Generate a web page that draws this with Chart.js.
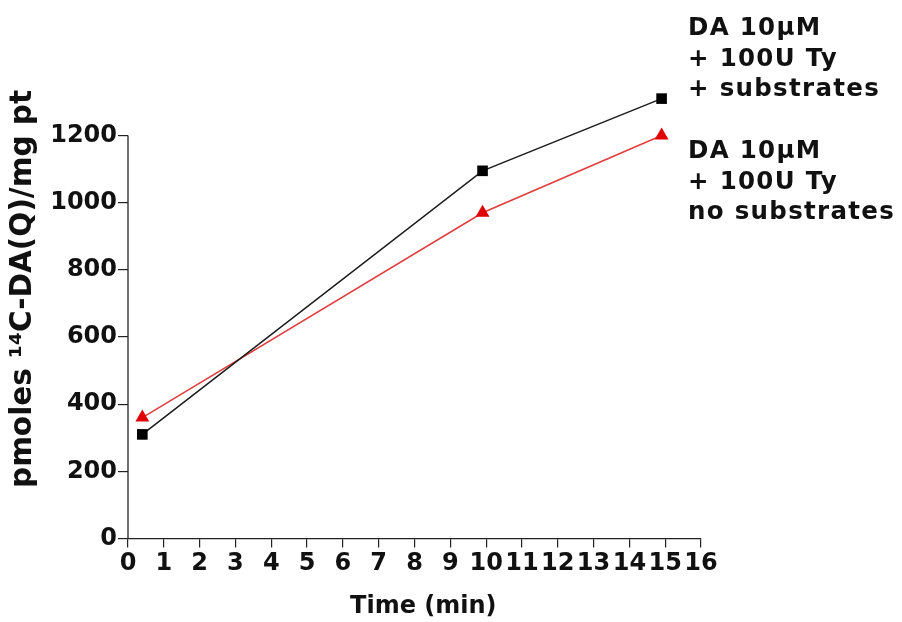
<!DOCTYPE html>
<html>
<head>
<meta charset="utf-8">
<script src="https://cdn.jsdelivr.net/npm/chart.js@4/dist/chart.umd.min.js"></script>
<style>
  html, body { margin: 0; padding: 0; background: #ffffff; overflow: hidden; }
  #c { display: block; }
</style>
</head>
<body>
<canvas id="c" width="902" height="622"></canvas>
<script>
// Incubation times (min)
const timesWith = [0.4, 9.9, 14.9];
const timesWithout = [0.4, 9.9, 14.9];
// 14C-DA(Q) bound, pmoles / mg protein
const withSubstrates = [310, 1095, 1310];
const noSubstrates = [360, 970, 1200];

const yTicks = [0, 200, 400, 600, 800, 1000, 1200];
const xTicks = [0, 1, 2, 3, 4, 5, 6, 7, 8, 9, 10, 11, 12, 13, 14, 15, 16];

const seriesLabels = [
  ['DA 10\u00b5M', '+ 100U Ty', '+ substrates'],
  ['DA 10\u00b5M', '+ 100U Ty', 'no substrates']
];
const yTitle = 'pmoles \u00b9\u2074C-DA(Q)/mg pt';
const xTitle = 'Time (min)';

const FONT = '"DejaVu Sans", Verdana, sans-serif';
const INK = '#111111';

function toPoints(xs, ys) {
  return xs.map((x, i) => ({ x: x, y: ys[i] }));
}

// Left axis line (stops at the top tick), axis titles and series captions
const decorPlugin = {
  id: 'decor',
  afterDraw(chart) {
    const ctx = chart.ctx;
    const xs = chart.scales.x, ys = chart.scales.y;
    ctx.save();
    ctx.strokeStyle = '#222';
    ctx.lineWidth = 1.3;
    ctx.beginPath();
    ctx.moveTo(xs.left, ys.getPixelForValue(yTicks[0]));
    ctx.lineTo(xs.left, ys.getPixelForValue(yTicks[yTicks.length - 1]));
    ctx.stroke();

    ctx.fillStyle = INK;
    ctx.textBaseline = 'middle';

    // captions next to the end points
    ctx.textAlign = 'left';
    ctx.font = 'bold 24.5px ' + FONT;
    if ('letterSpacing' in ctx) ctx.letterSpacing = '1.3px';
    const capX = xs.right - 13;
    const tops = [29, 152];
    seriesLabels.forEach((lines, b) => {
      lines.forEach((t, i) => ctx.fillText(t, capX, tops[b] + i * 30.5));
    });
    if ('letterSpacing' in ctx) ctx.letterSpacing = '0px';

    // x title
    ctx.font = 'bold 24px ' + FONT;
    ctx.fillText(xTitle, xs.getPixelForValue(6.2), 607);

    // y title
    ctx.textAlign = 'center';
    ctx.translate(23, 289);
    ctx.rotate(-Math.PI / 2);
    ctx.font = 'bold 29.5px ' + FONT;
    ctx.fillText(yTitle, 0, 0);
    ctx.restore();
  }
};

new Chart(document.getElementById('c'), {
  type: 'scatter',
  data: {
    datasets: [
      {
        label: seriesLabels[0].join(' '),
        data: toPoints(timesWith, withSubstrates),
        showLine: true,
        borderColor: '#1c1c1c',
        backgroundColor: '#000000',
        borderWidth: 1.5,
        pointStyle: 'rect',
        pointRadius: 7.5,
        pointHoverRadius: 7.5,
        pointBorderWidth: 0,
        clip: false
      },
      {
        label: seriesLabels[1].join(' '),
        data: toPoints(timesWithout, noSubstrates),
        showLine: true,
        borderColor: '#e03c3c',
        backgroundColor: '#e00000',
        borderWidth: 1.5,
        pointStyle: 'triangle',
        pointRadius: 8,
        pointHoverRadius: 8,
        pointBorderWidth: 0,
        clip: false
      }
    ]
  },
  options: {
    responsive: false,
    animation: false,
    devicePixelRatio: 1,
    layout: { padding: { top: 68.4, right: 201, left: 0, bottom: 0 } },
    plugins: {
      legend: { display: false },
      tooltip: { enabled: false }
    },
    scales: {
      x: {
        type: 'linear',
        min: 0,
        max: 16,
        afterBuildTicks(scale) { scale.ticks = xTicks.map(v => ({ value: v })); },
        afterFit(scale) { scale.height = 83.5; },
        grid: { display: true, drawOnChartArea: false, drawTicks: true, tickLength: 9, tickColor: '#222', lineWidth: 1.2 },
        border: { display: true, color: '#222', width: 1.3 },
        ticks: {
          color: INK,
          font: { family: FONT, size: 24, weight: 'bold' },
          padding: 2,
          maxRotation: 0,
          autoSkip: false,
          callback: v => String(v)
        },
        title: { display: false }
      },
      y: {
        type: 'linear',
        min: 0,
        max: 1400,
        afterBuildTicks(scale) { scale.ticks = yTicks.map(v => ({ value: v })); },
        afterFit(scale) { scale.width = 128; },
        grid: { display: true, drawOnChartArea: false, drawTicks: true, tickLength: 10, tickColor: '#222', lineWidth: 1.2 },
        border: { display: false },
        ticks: {
          color: INK,
          font: { family: FONT, size: 24, weight: 'bold' },
          padding: 1,
          callback: v => String(v)
        }
      }
    }
  },
  plugins: [decorPlugin]
});
</script>
</body>
</html>
